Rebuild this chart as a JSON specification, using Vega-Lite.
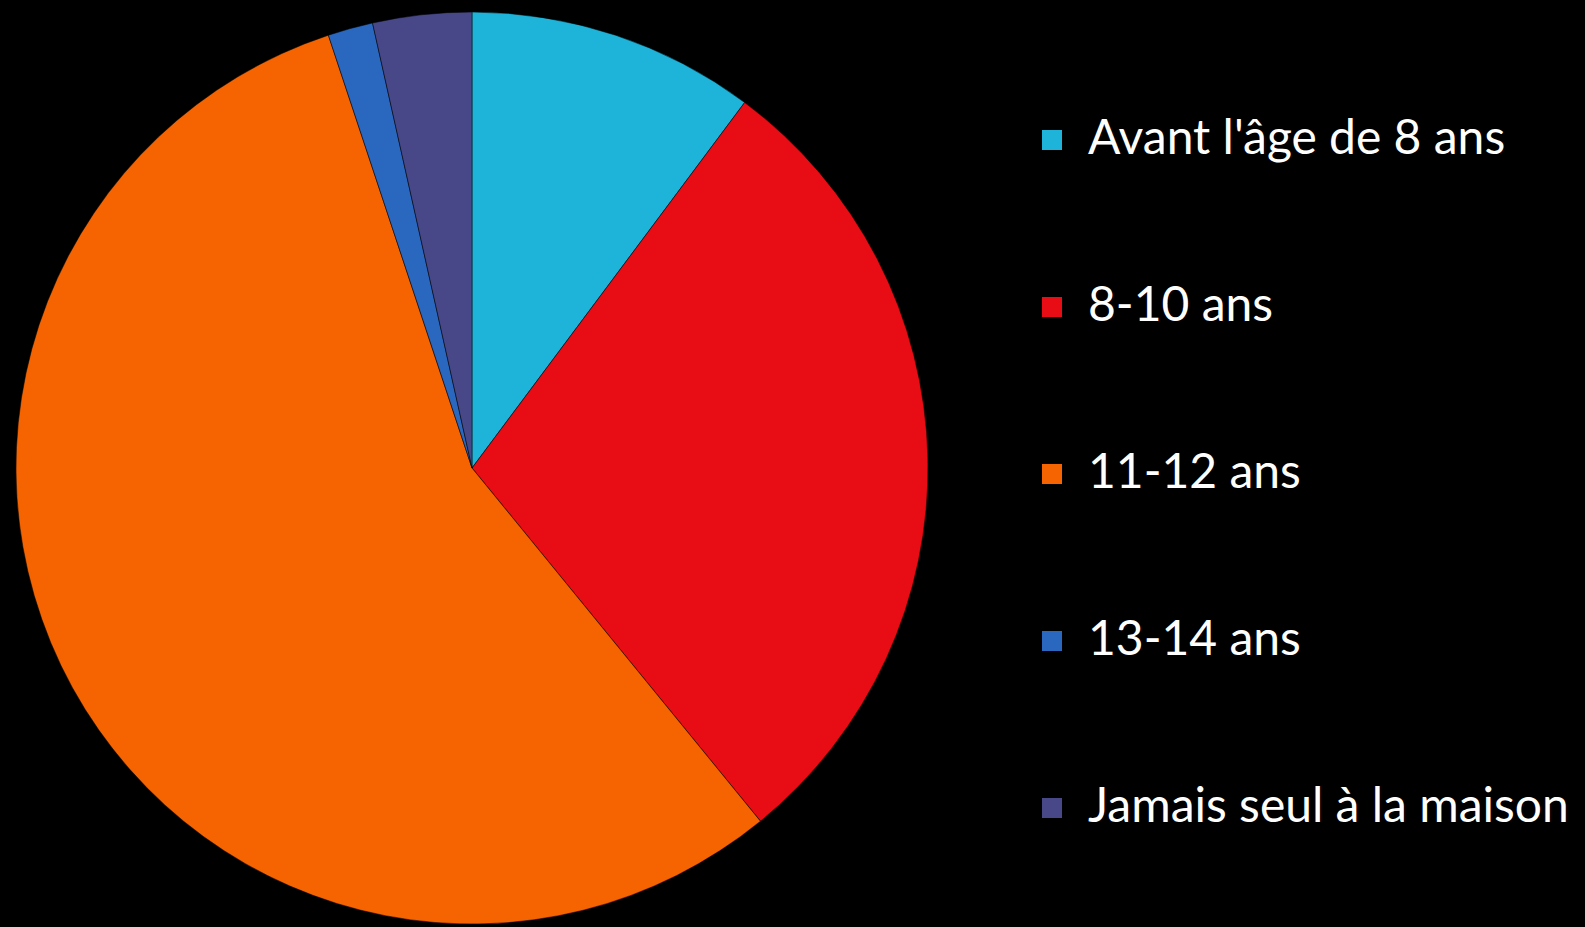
{
  "$schema": "https://vega.github.io/schema/vega-lite/v6.json",
  "width": 944,
  "height": 936,
  "padding": {"left": 0, "top": 0, "right": 641, "bottom": 0},
  "autosize": {"type": "none"},
  "background": "#000000",
  "view": {"stroke": null},
  "data": {
    "values": [
      {"categorie": "Avant l'âge de 8 ans", "pct": 10.2, "idx": 1},
      {"categorie": "8-10 ans", "pct": 28.9, "idx": 2},
      {"categorie": "11-12 ans", "pct": 55.8, "idx": 3},
      {"categorie": "13-14 ans", "pct": 1.6, "idx": 4},
      {"categorie": "Jamais seul à la maison", "pct": 3.5, "idx": 5}
    ]
  },
  "mark": {"type": "arc", "radius": 456, "stroke": "#000000", "strokeOpacity": 0.5, "strokeWidth": 1},
  "encoding": {
    "theta": {"field": "pct", "type": "quantitative", "stack": true},
    "order": {"field": "idx", "type": "quantitative"},
    "color": {
      "field": "categorie",
      "type": "nominal",
      "scale": {
        "domain": ["Avant l'âge de 8 ans", "8-10 ans", "11-12 ans", "13-14 ans", "Jamais seul à la maison"],
        "range": ["#1eb4da", "#e80c14", "#f56400", "#2a68c0", "#484888"]
      },
      "legend": {
        "orient": "none",
        "legendX": 1028,
        "legendY": 116,
        "title": null,
        "symbolType": "square",
        "symbolSize": 400,
        "symbolStrokeWidth": 0,
        "labelFont": "Lato",
        "labelFontSize": 48,
        "labelColor": "#ffffff",
        "labelOffset": 12,
        "labelLimit": 600,
        "rowPadding": 119
      }
    }
  }
}
